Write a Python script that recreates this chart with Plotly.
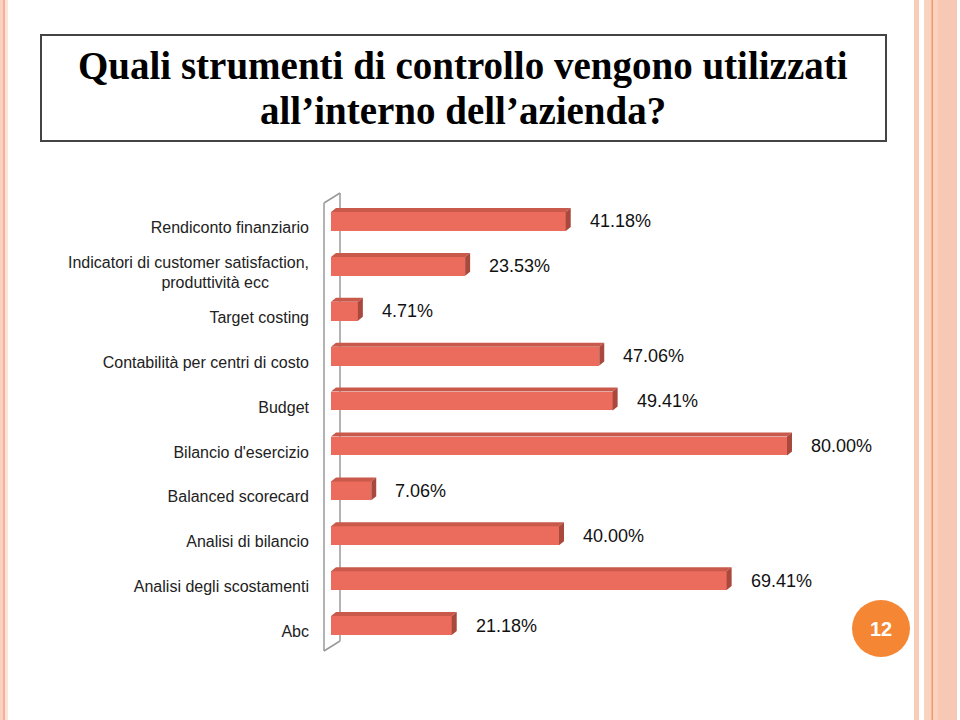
import plotly.graph_objects as go

# ---------------- data ----------------
categories = [
    "Rendiconto finanziario",
    "Indicatori di customer satisfaction,<br>produttività ecc" + "\u00a0" * 9,
    "Target costing",
    "Contabilità per centri di costo",
    "Budget",
    "Bilancio d'esercizio",
    "Balanced scorecard",
    "Analisi di bilancio",
    "Analisi degli scostamenti",
    "Abc",
]
values = [41.18, 23.53, 4.71, 47.06, 49.41, 80.00, 7.06, 40.00, 69.41, 21.18]
value_labels = [f"{v:.2f}%" for v in values]
title_lines = ["Quali strumenti di controllo vengono utilizzati",
               "all\u2019interno dell\u2019azienda?"]
page_number = "12"

# ---------------- geometry / style ----------------
W, H = 960, 720
L, R, T, B = 331, 59, 199, 72
plot_w = W - L - R
plot_h = H - T - B
X_MAX = 100
n = len(categories)
px_per_x = plot_w / X_MAX
px_per_y = plot_h / n
idx = list(range(n))

FRONT = "#EB6C5C"
TOP = "#C9594B"
SIDE = "#A9483C"


def px(xp):
    return (xp - L) / plot_w


def py(yp):
    return 1 - (yp - T) / plot_h


fig = go.Figure()
fig.add_trace(go.Bar(
    x=values, y=idx, orientation="h", width=0.42,
    marker=dict(color=FRONT, line=dict(width=0)),
    hoverinfo="skip", showlegend=False,
))

shapes = []
# 3D faces derived from data values
dx = 5 / px_per_x
dy = 4 / px_per_y
h = 0.21
for i, v in zip(idx, values):
    shapes.append(dict(
        type="path", xref="x", yref="y",
        path=f"M 0,{i-h} L {v},{i-h} L {v+dx},{i-h-dy} L {dx},{i-h-dy} Z",
        fillcolor=TOP, line=dict(width=0)))
    shapes.append(dict(
        type="path", xref="x", yref="y",
        path=f"M {v},{i-h} L {v+dx},{i-h-dy} L {v+dx},{i+h-dy} L {v},{i+h} Z",
        fillcolor=SIDE, line=dict(width=0)))

# wall of the 3D chart
wall = dict(color="#9a9a9a", width=1.5)
for (x0, y0, x1, y1) in [(324, 203, 324, 651), (340, 193, 340, 641),
                         (324, 203, 340, 193), (324, 651, 340, 641)]:
    shapes.append(dict(type="line", xref="paper", yref="paper",
                       x0=px(x0), y0=py(y0), x1=px(x1), y1=py(y1),
                       line=wall, layer="below"))

# title box
shapes.append(dict(type="rect", xref="paper", yref="paper",
                   x0=px(41), y0=py(35), x1=px(886), y1=py(141),
                   line=dict(color="#444444", width=2), fillcolor="white"))

# decorative stripes
stripes = [
    (0, 3, "#f9d3c2"), (3, 5, "#f3b197"), (5, 8, "#fce4d8"),
    (914, 919, "#f8ccb8"), (924, 957, "#f9d2c0"), (938, 957, "#f7c9b4"),
    (931.5, 933, "#f29a66"),
]
for x0, x1, c in stripes:
    shapes.append(dict(type="rect", xref="paper", yref="paper",
                       x0=px(x0), x1=px(x1), y0=py(0), y1=py(H),
                       fillcolor=c, line=dict(width=0), layer="below"))

# page number circle
shapes.append(dict(type="circle", xref="paper", yref="paper",
                   x0=px(852), x1=px(910), y0=py(600), y1=py(657),
                   fillcolor="#F58634", line=dict(width=0)))

annotations = []
for i, v, t in zip(idx, values, value_labels):
    annotations.append(dict(
        x=v, y=i, xref="x", yref="y", text=t, showarrow=False,
        xanchor="left", yanchor="middle", xshift=22,
        font=dict(family="Liberation Sans, Arial", size=18, color="#111111")))

for line, yp in zip(title_lines, [66, 111]):
    annotations.append(dict(
        x=px(463), y=py(yp), xref="paper", yref="paper",
        text=f"<b>{line}</b>", showarrow=False,
        xanchor="center", yanchor="middle", align="center",
        font=dict(family="Liberation Serif, serif", size=39, color="#000000")))

annotations.append(dict(
    x=px(881), y=py(629), xref="paper", yref="paper",
    text=f"<b>{page_number}</b>", showarrow=False,
    xanchor="center", yanchor="middle",
    font=dict(family="Liberation Sans, Arial", size=20, color="white")))

fig.update_layout(
    width=W, height=H,
    margin=dict(l=L, r=R, t=T, b=B, pad=0),
    paper_bgcolor="white", plot_bgcolor="rgba(0,0,0,0)",
    shapes=shapes, annotations=annotations,
    bargap=0,
    xaxis=dict(range=[0, X_MAX], visible=False, fixedrange=True),
    yaxis=dict(
        tickmode="array", tickvals=idx, ticktext=categories,
        range=[n - 0.5, -0.5], showgrid=False, zeroline=False,
        showline=False, ticks="",
        ticklabelstandoff=21, ticklabelshift=-6,
        tickfont=dict(family="Liberation Sans, Arial", size=16, color="#222222"),
        fixedrange=True,
    ),
)

fig.write_html("out.html", include_plotlyjs=True, full_html=True,
               config={"displayModeBar": False},
               post_script="document.body.style.margin='0';")
